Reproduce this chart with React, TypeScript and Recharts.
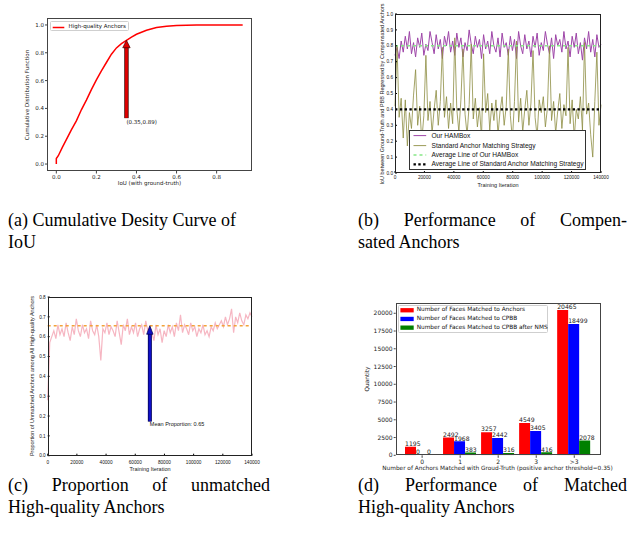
import React from "react";
import {
  LineChart,
  Line,
  BarChart,
  Bar,
  XAxis,
  YAxis,
  LabelList,
  ReferenceLine,
  ReferenceDot,
} from "recharts";

// (a) cumulative distribution of IoU
const iouValues = [0, 0, 0.01, 0.03, 0.05, 0.075, 0.1, 0.125, 0.15, 0.175, 0.2, 0.225, 0.25, 0.275, 0.3, 0.325, 0.35, 0.375, 0.4, 0.45, 0.5, 0.55, 0.6, 0.65, 0.7, 0.8, 0.93];
const cdfValues = [0, 0.04, 0.06, 0.12, 0.175, 0.245, 0.31, 0.39, 0.46, 0.535, 0.605, 0.67, 0.73, 0.79, 0.835, 0.866, 0.89, 0.913, 0.933, 0.962, 0.981, 0.991, 0.996, 0.998, 1.0, 1.0, 1.0];
const iouTicks = [0, 0.2, 0.4, 0.6, 0.8];
const cdfTicks = [0, 0.2, 0.4, 0.6, 0.8, 1.0];
const markIou = 0.35;
const markCdf = 0.89;

// (b) compensated anchors, sampled every iterStep iterations
const iterStep = 1400;
const hamboxIoU = [
  0.74, 0.79, 0.72, 0.83, 0.76, 0.86, 0.78, 0.89, 0.75, 0.82,
  0.73, 0.85, 0.79, 0.88, 0.74, 0.81, 0.77, 0.89, 0.82, 0.75,
  0.87, 0.78, 0.84, 0.72, 0.86, 0.8, 0.89, 0.76, 0.83, 0.74,
  0.88, 0.79, 0.85, 0.73, 0.82, 0.77, 0.9, 0.81, 0.75, 0.86,
  0.79, 0.84, 0.72, 0.87, 0.78, 0.83, 0.75, 0.89, 0.8, 0.76,
  0.85, 0.73, 0.88, 0.79, 0.82, 0.74, 0.86, 0.77, 0.84, 0.72,
  0.89, 0.8, 0.75, 0.87, 0.78, 0.83, 0.73, 0.86, 0.79, 0.88,
  0.74, 0.82, 0.77, 0.89, 0.81, 0.75, 0.85, 0.72, 0.87, 0.8,
  0.84, 0.76, 0.89, 0.78, 0.83, 0.73, 0.86, 0.79, 0.88, 0.75,
  0.82, 0.71, 0.85, 0.78, 0.89, 0.76, 0.84, 0.73, 0.87, 0.79, 0.81,
];
const standardIoU = [
  0.42, 0.8, 0.35, 0.47, 0.22, 0.46, 0.17, 0.38, 0.28, 0.49,
  0.65, 0.3, 0.42, 0.2, 0.36, 0.74, 0.33, 0.45, 0.25, 0.4,
  0.52, 0.3, 0.45, 0.79, 0.35, 0.48, 0.28, 0.44, 0.31, 0.85,
  0.4, 0.26, 0.46, 0.78, 0.37, 0.24, 0.43, 0.81, 0.34, 0.47,
  0.29, 0.41, 0.22, 0.75, 0.38, 0.5, 0.27, 0.44, 0.33, 0.46,
  0.24, 0.39, 0.48, 0.3, 0.42, 0.78, 0.36, 0.21, 0.45, 0.83,
  0.32, 0.47, 0.26, 0.4, 0.52, 0.3, 0.44, 0.77, 0.35, 0.23,
  0.46, 0.38, 0.48, 0.29, 0.41, 0.8, 0.33, 0.45, 0.25, 0.39,
  0.5, 0.28, 0.43, 0.36, 0.79, 0.31, 0.46, 0.22, 0.4, 0.34,
  0.48, 0.27, 0.82, 0.37, 0.44, 0.24, 0.1, 0.45, 0.76, 0.3, 0.43,
];
const hamboxMean = 0.8;
const standardMean = 0.4;
const iterTicks = [0, 20000, 40000, 60000, 80000, 100000, 120000, 140000];
const iouTicksB = [0, 0.1, 0.2, 0.3, 0.4, 0.5, 0.6, 0.7, 0.8, 0.9, 1.0];

// (c) proportion of unmatched high-quality anchors
const unmatchedShare = [
  0.28, 0.57, 0.6, 0.63, 0.59, 0.66, 0.61, 0.64, 0.6, 0.67,
  0.62, 0.58, 0.65, 0.61, 0.69, 0.63, 0.6, 0.66, 0.62, 0.64,
  0.59, 0.68, 0.63, 0.61, 0.66, 0.6, 0.48, 0.64, 0.62, 0.67,
  0.61, 0.65, 0.63, 0.6, 0.68, 0.62, 0.56, 0.66, 0.63, 0.69,
  0.61, 0.65, 0.62, 0.67, 0.6, 0.64, 0.66, 0.61, 0.68, 0.63,
  0.65, 0.62, 0.58, 0.66, 0.61, 0.64, 0.57, 0.63, 0.6, 0.66,
  0.62, 0.65, 0.6, 0.67, 0.63, 0.71, 0.62, 0.66, 0.64, 0.61,
  0.67, 0.63, 0.65, 0.6, 0.64, 0.62, 0.66, 0.61, 0.63, 0.6,
  0.65, 0.63, 0.67, 0.64, 0.66, 0.68, 0.65, 0.7, 0.66, 0.69,
  0.74, 0.62, 0.7, 0.67, 0.72, 0.68, 0.66, 0.71, 0.69, 0.72, 0.7,
];
const meanShare = 0.655;
const meanIter = 70000;
const shareTicks = [0, 0.1, 0.2, 0.3, 0.4, 0.5, 0.6, 0.7, 0.8];

// (d) matched high-quality anchors
const matchCategories = ["0", "1", "2", "3", ">3"];
const facesAnchors = [1195, 2492, 3257, 4549, 20465];
const facesCpbb = [0, 1968, 2442, 3405, 18499];
const facesCpbbNms = [0, 383, 316, 416, 2078];
const quantityTicks = [0, 2500, 5000, 7500, 10000, 12500, 15000, 17500, 20000];

const cdfData = iouValues.map((iou, i) => ({ iou, cdf: cdfValues[i] }));
const compData = hamboxIoU.map((v, i) => ({ iter: i * iterStep, hambox: v, standard: standardIoU[i] }));
const shareData = unmatchedShare.map((v, i) => ({ iter: i * iterStep, share: v }));
const matchData = matchCategories.map((cat, i) => ({
  cat,
  anchors: facesAnchors[i],
  cpbb: facesCpbb[i],
  nms: facesCpbbNms[i],
}));

const DJ = '"DejaVu Sans", sans-serif';
const LS = '"Liberation Sans", Arial, sans-serif';
const SERIF = '"Liberation Serif", "Times New Roman", serif';

const tickA = { fontSize: 5.5, fontFamily: DJ, fill: "#222" };
const tickB = { fontSize: 4.7, fontFamily: LS, fill: "#111" };
const tickD = { fontSize: 6, fontFamily: DJ, fill: "#222" };

const abs = (left: number, top: number): React.CSSProperties => ({ position: "absolute", left, top });

function Frame({ x1, y1, x2, y2, color }: { x1: number; y1: number; x2: number; y2: number; color: string }) {
  return (
    <div
      style={{
        position: "absolute",
        left: x1,
        top: y1,
        width: x2 - x1,
        height: y2 - y1,
        border: `1px solid ${color}`,
        boxSizing: "border-box",
        pointerEvents: "none",
      }}
    />
  );
}

function AxisTitle({ x, y, text, size, font, rotate }: { x: number; y: number; text: string; size: number; font: string; rotate?: boolean }) {
  return (
    <div
      style={{
        position: "absolute",
        left: x,
        top: y,
        transform: `translate(-50%, -50%)${rotate ? " rotate(-90deg)" : ""}`,
        whiteSpace: "nowrap",
        fontSize: size,
        fontFamily: font,
        lineHeight: 1,
        color: "#222",
      }}
    >
      {text}
    </div>
  );
}

function LegendText({ x, y, text, size, font }: { x: number; y: number; text: string; size: number; font: string }) {
  return (
    <span
      style={{
        position: "absolute",
        left: x,
        top: y,
        transform: "translateY(-50%)",
        whiteSpace: "nowrap",
        fontSize: size,
        fontFamily: font,
        lineHeight: 1,
        color: "#111",
      }}
    >
      {text}
    </span>
  );
}

function arrowHead(fill: string, edge: string, halfW: number, len: number) {
  return (p: any) => (
    <polygon
      points={`${p.cx},${p.cy} ${p.cx - halfW},${p.cy + len} ${p.cx + halfW},${p.cy + len}`}
      fill={fill}
      stroke={edge}
      strokeWidth={0.7}
    />
  );
}

function noteText(text: string, size: number, font: string) {
  return (p: any) => (
    <text x={p.cx} y={p.cy} fontSize={size} fontFamily={font} fill="#111" dominantBaseline="middle">
      {text}
    </text>
  );
}

function PanelA() {
  return (
    <>
      <div style={abs(0, 0)}>
        <LineChart width={262} height={195} data={cdfData} margin={{ top: 18, right: 10, left: 17, bottom: 9 }}>
          <XAxis
            type="number"
            dataKey="iou"
            domain={[-0.0465, 0.9765]}
            ticks={iouTicks}
            interval={0}
            allowDataOverflow
            tickFormatter={(v) => Number(v).toFixed(1)}
            axisLine={false}
            tickLine={{ stroke: "#444" }}
            tickSize={2.5}
            tickMargin={1.2}
            height={15}
            tick={tickA}
          />
          <YAxis
            type="number"
            domain={[-0.05, 1.05]}
            ticks={cdfTicks}
            interval={0}
            allowDataOverflow
            tickFormatter={(v) => Number(v).toFixed(1)}
            axisLine={false}
            tickLine={{ stroke: "#444" }}
            tickSize={2}
            tickMargin={1}
            width={30}
            tick={tickA}
          />
          <Line type="linear" dataKey="cdf" stroke="#ff0000" strokeWidth={1.5} dot={false} isAnimationActive={false} />
          <ReferenceLine segment={[{ x: markIou, y: 0.33 }, { x: markIou, y: 0.845 }]} stroke="#400000" strokeWidth={4.4} ifOverflow="visible" />
          <ReferenceLine segment={[{ x: markIou, y: 0.332 }, { x: markIou, y: 0.845 }]} stroke="#e00000" strokeWidth={2.8} ifOverflow="visible" />
          <ReferenceDot x={markIou} y={markCdf} shape={arrowHead("#e00000", "#400000", 3.7, 7.5)} ifOverflow="visible" />
          <ReferenceDot x={markIou} y={0.3} shape={noteText(`(${markIou},${markCdf})`, 5.5, DJ)} ifOverflow="visible" />
        </LineChart>
      </div>
      <Frame x1={47} y1={18} x2={252} y2={171} color="#444" />
      <div
        style={{
          ...abs(50, 21),
          width: 79,
          height: 10,
          border: "0.6px solid #cfcfcf",
          borderRadius: 1.5,
          background: "#fff",
          boxSizing: "border-box",
        }}
      >
        <svg style={abs(1, 3.5)} width={13} height={3}>
          <line x1={0.7} y1={1.5} x2={12.3} y2={1.5} stroke="#ff0000" strokeWidth={1.5} />
        </svg>
        <LegendText x={17.5} y={4.6} text="High-quality Anchors" size={5.5} font={DJ} />
      </div>
      <AxisTitle x={28} y={94.5} text="Cumulative Distribution Function" size={5.5} font={DJ} rotate />
      <AxisTitle x={149.5} y={184} text="IoU (with ground-truth)" size={5.5} font={DJ} />
    </>
  );
}

function PanelB() {
  return (
    <>
      <div style={abs(380, 0)}>
        <LineChart width={254} height={190} data={compData} margin={{ top: 14, right: 33, left: 0, bottom: 7 }}>
          <XAxis
            type="number"
            dataKey="iter"
            domain={[0, 140000]}
            ticks={iterTicks}
            interval={0}
            axisLine={false}
            tickLine={{ stroke: "#000" }}
            tickSize={-2}
            tickMargin={4.6}
            height={10}
            tick={tickB}
          />
          <YAxis
            type="number"
            domain={[0, 1]}
            ticks={iouTicksB}
            interval={0}
            tickFormatter={(v) => Number(v).toFixed(1)}
            axisLine={false}
            tickLine={{ stroke: "#000" }}
            tickSize={-2}
            tickMargin={4}
            width={15}
            tick={tickB}
          />
          <Line type="linear" dataKey="hambox" stroke="#9e46a8" strokeWidth={1} dot={false} isAnimationActive={false} />
          <Line type="linear" dataKey="standard" stroke="#8e8e44" strokeOpacity={0.9} strokeWidth={0.9} dot={false} isAnimationActive={false} />
          <ReferenceLine y={hamboxMean} stroke="#86e886" strokeWidth={1.6} strokeDasharray="3 3" />
          <ReferenceLine y={standardMean} stroke="#000" strokeWidth={2.4} strokeDasharray="2.4 2.4" />
        </LineChart>
      </div>
      <div
        style={{
          ...abs(409.3, 130),
          width: 177,
          height: 40,
          border: "0.7px solid #333",
          background: "#fff",
          boxSizing: "border-box",
        }}
      >
        <svg style={abs(0, 0)} width={22} height={40}>
          <line x1={3.5} y1={4.6} x2={16.2} y2={4.6} stroke="#9e46a8" strokeWidth={1} />
          <line x1={3.5} y1={14.6} x2={16.2} y2={14.6} stroke="#8e8e44" strokeWidth={0.9} />
          <line x1={3.5} y1={24} x2={16.2} y2={24} stroke="#86e886" strokeWidth={1.6} strokeDasharray="3 3" />
          <line x1={3.5} y1={33.4} x2={16.2} y2={33.4} stroke="#000" strokeWidth={2.4} strokeDasharray="2.4 2.4" />
        </svg>
        <LegendText x={21.2} y={4.6} text="Our HAMBox" size={6.6} font={LS} />
        <LegendText x={21.2} y={14.6} text="Standard Anchor Matching Strategy" size={6.6} font={LS} />
        <LegendText x={21.2} y={24} text="Average Line of Our HAMBox" size={6.6} font={LS} />
        <LegendText x={21.2} y={33.4} text="Average Line of Standard Anchor Matching Strategy" size={6.6} font={LS} />
      </div>
      <Frame x1={395} y1={14} x2={601} y2={173} color="#222" />
      <AxisTitle x={383.3} y={93.5} text="IoU between Ground-Truth and PBB Regressed by Compensated Anchors" size={5.5} font={LS} rotate />
      <AxisTitle x={498} y={186} text="Training Iteration" size={5.5} font={LS} />
    </>
  );
}

function PanelC() {
  return (
    <>
      <div style={abs(20, 290)}>
        <LineChart width={250} height={178} data={shareData} margin={{ top: 7, right: 18, left: 7.7, bottom: 4.3 }}>
          <XAxis
            type="number"
            dataKey="iter"
            domain={[0, 140000]}
            ticks={iterTicks}
            interval={0}
            axisLine={false}
            tickLine={{ stroke: "#000" }}
            tickSize={-2}
            tickMargin={6.6}
            height={8}
            tick={tickB}
          />
          <YAxis
            type="number"
            domain={[0, 0.8]}
            ticks={shareTicks}
            interval={0}
            tickFormatter={(v) => Number(v).toFixed(1)}
            axisLine={false}
            tickLine={{ stroke: "#000" }}
            tickSize={-2}
            tickMargin={4}
            width={20}
            tick={tickB}
          />
          <Line type="linear" dataKey="share" stroke="#f6b6c2" strokeWidth={1.2} dot={false} isAnimationActive={false} />
          <ReferenceLine y={meanShare} stroke="#f2a23a" strokeWidth={1.6} strokeDasharray="3 3" />
          <ReferenceLine segment={[{ x: meanIter, y: 0.172 }, { x: meanIter, y: 0.615 }]} stroke="#00004a" strokeWidth={4} ifOverflow="visible" />
          <ReferenceLine segment={[{ x: meanIter, y: 0.174 }, { x: meanIter, y: 0.615 }]} stroke="#1010c8" strokeWidth={2.6} ifOverflow="visible" />
          <ReferenceDot x={meanIter} y={meanShare} shape={arrowHead("#1010c8", "#00004a", 3.2, 8.5)} ifOverflow="visible" />
          <ReferenceDot x={meanIter} y={0.155} shape={noteText("Mean Proportion: 0.65", 5.5, LS)} ifOverflow="visible" />
        </LineChart>
      </div>
      <Frame x1={47.7} y1={297} x2={252} y2={455.7} color="#222" />
      <AxisTitle x={33.3} y={376.4} text="Proportion of Unmatched Anchors among All High-quality Anchors" size={5.5} font={LS} rotate />
      <AxisTitle x={150} y={469.5} text="Training Iteration" size={5.5} font={LS} />
    </>
  );
}

function barLabel(p: any) {
  return (
    <text x={Number(p.x)} y={Number(p.y) - 0.8} fontSize={6.1} fontFamily={DJ} fill="#222">
      {String(p.value)}
    </text>
  );
}

function PanelD() {
  return (
    <>
      <div style={abs(365, 295)}>
        <BarChart
          width={269}
          height={175}
          data={matchData}
          margin={{ top: 7.7, right: 33.3, left: 5.7, bottom: 4.7 }}
          barCategoryGap="5%"
          barGap={0}
        >
          <XAxis
            dataKey="cat"
            padding={{ left: 7.4, right: 7.4 }}
            interval={0}
            axisLine={false}
            tickLine={{ stroke: "#444" }}
            tickSize={2.5}
            tickMargin={2}
            height={10}
            tick={tickD}
          />
          <YAxis
            type="number"
            domain={[0, 21488]}
            ticks={quantityTicks}
            interval={0}
            allowDataOverflow
            axisLine={false}
            tickLine={{ stroke: "#444" }}
            tickSize={2}
            tickMargin={1}
            width={25}
            tick={tickD}
          />
          <Bar dataKey="anchors" fill="#ff0000" minPointSize={0.01} isAnimationActive={false}>
            <LabelList dataKey="anchors" content={barLabel} />
          </Bar>
          <Bar dataKey="cpbb" fill="#0000ff" minPointSize={0.01} isAnimationActive={false}>
            <LabelList dataKey="cpbb" content={barLabel} />
          </Bar>
          <Bar dataKey="nms" fill="#008000" minPointSize={0.01} isAnimationActive={false}>
            <LabelList dataKey="nms" content={barLabel} />
          </Bar>
        </BarChart>
      </div>
      <Frame x1={395.7} y1={302.7} x2={600.7} y2={455.3} color="#444" />
      <div
        style={{
          ...abs(398.3, 305),
          width: 150,
          height: 27.7,
          border: "0.6px solid #cfcfcf",
          borderRadius: 1.5,
          background: "#fff",
          boxSizing: "border-box",
        }}
      >
        <svg style={abs(0, 0)} width={17} height={27}>
          <rect x={1.4} y={2.1} width={13.3} height={4.3} fill="#ff0000" />
          <rect x={1.4} y={10.8} width={13.3} height={4.3} fill="#0000ff" />
          <rect x={1.4} y={19.5} width={13.3} height={4.3} fill="#008000" />
        </svg>
        <LegendText x={17.4} y={4.3} text="Number of Faces Matched to Anchors" size={5.8} font={DJ} />
        <LegendText x={17.4} y={13} text="Number of Faces Matched to CPBB" size={5.8} font={DJ} />
        <LegendText x={17.4} y={21.7} text="Number of Faces Matched to CPBB after NMS" size={5.8} font={DJ} />
      </div>
      <AxisTitle x={368} y={379} text="Quantity" size={5.8} font={DJ} rotate />
      <AxisTitle
        x={497.5}
        y={469}
        text="Number of Anchors Matched with Groud-Truth (positive anchor threshold=0.35)"
        size={5.8}
        font={DJ}
      />
    </>
  );
}

const capStyle: React.CSSProperties = {
  position: "absolute",
  fontFamily: SERIF,
  fontSize: 18,
  lineHeight: "22px",
  height: 22,
  color: "#000",
  whiteSpace: "nowrap",
};

function CapLine({ x, y, words, width }: { x: number; y: number; words: string[]; width?: number }) {
  if (!width) {
    return <div style={{ ...capStyle, left: x, top: y }}>{words.join(" ")}</div>;
  }
  return (
    <div style={{ ...capStyle, left: x, top: y, width, display: "flex", justifyContent: "space-between" }}>
      {words.map((w, i) => (
        <span key={i}>{w}</span>
      ))}
    </div>
  );
}

function Captions() {
  return (
    <>
      <CapLine x={8} y={208.5} words={["(a)", "Cumulative", "Desity", "Curve", "of"]} />
      <CapLine x={8} y={230.5} words={["IoU"]} />
      <CapLine x={358} y={208.5} width={269} words={["(b)", "Performance", "of", "Compen-"]} />
      <CapLine x={358} y={230.5} words={["sated", "Anchors"]} />
      <CapLine x={8} y={473.5} width={262} words={["(c)", "Proportion", "of", "unmatched"]} />
      <CapLine x={8} y={495.5} words={["High-quality", "Anchors"]} />
      <CapLine x={358} y={473.5} width={269} words={["(d)", "Performance", "of", "Matched"]} />
      <CapLine x={358} y={495.5} words={["High-quality", "Anchors"]} />
    </>
  );
}

export default function App() {
  return (
    <div style={{ position: "absolute", left: 0, top: 0, width: 634, height: 537, background: "#fff", overflow: "hidden" }}>
      <PanelA />
      <PanelB />
      <PanelC />
      <PanelD />
      <Captions />
    </div>
  );
}
